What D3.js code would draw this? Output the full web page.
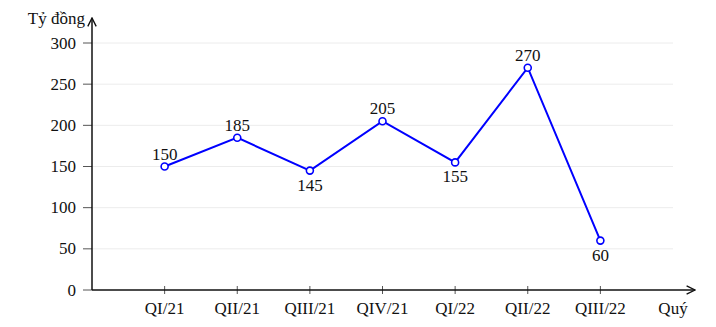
<!DOCTYPE html>
<html lang="vi">
<head>
<meta charset="UTF-8">
<title>Doanh thu theo quý</title>
<script src="https://d3js.org/d3.v7.min.js"></script>
<style>
  body { margin: 0; background: #fff; }
  svg text { font-family: "Liberation Serif", "DejaVu Serif", serif; font-size: 17px; fill: #111; }
</style>
</head>
<body>
<svg id="chart" width="716" height="327"></svg>
<script>
  const quarters = ["QI/21", "QII/21", "QIII/21", "QIV/21", "QI/22", "QII/22", "QIII/22"];
  const values = [150, 185, 145, 205, 155, 270, 60];
  const labelPos = ["above", "above", "below", "above", "below", "above", "below"];
  const yTicks = [0, 50, 100, 150, 200, 250, 300];

  const svg = d3.select("#chart");
  const x0 = 92, y0 = 290;

  // category i sits at index i+1; the x axis label "Quý" takes slot 8
  const x = d3.scaleLinear().domain([0, 8]).range([x0, 673]);
  const y = d3.scaleLinear().domain([0, 300]).range([y0, 43]);

  // grid
  svg.append("g").selectAll("line").data(yTicks.slice(1)).join("line")
    .attr("x1", x0).attr("x2", x(8))
    .attr("y1", d => y(d)).attr("y2", d => y(d))
    .attr("stroke", "#ececec").attr("stroke-width", 1);

  // y ticks + labels
  const yg = svg.append("g");
  yg.selectAll("line").data(yTicks).join("line")
    .attr("x1", x0 - 9).attr("x2", x0)
    .attr("y1", d => y(d)).attr("y2", d => y(d))
    .attr("stroke", "#555").attr("stroke-width", 1);
  yg.selectAll("text").data(yTicks).join("text")
    .attr("x", x0 - 16).attr("y", d => y(d) + 5.5)
    .attr("text-anchor", "end")
    .text(d => d);

  // x ticks + labels
  const xg = svg.append("g");
  xg.selectAll("line").data(quarters).join("line")
    .attr("x1", (d, i) => x(i + 1)).attr("x2", (d, i) => x(i + 1))
    .attr("y1", y0 - 4).attr("y2", y0 + 4)
    .attr("stroke", "#555").attr("stroke-width", 1);
  xg.selectAll("text").data(quarters).join("text")
    .attr("x", (d, i) => x(i + 1)).attr("y", y0 + 24)
    .attr("text-anchor", "middle")
    .text(d => d);

  // axes with arrows
  svg.append("defs").append("marker")
    .attr("id", "arrow").attr("viewBox", "0 0 10 10")
    .attr("refX", 9).attr("refY", 5)
    .attr("markerWidth", 7).attr("markerHeight", 7)
    .attr("orient", "auto")
    .append("path").attr("d", "M1,1 L9,5 L1,9")
    .attr("fill", "none").attr("stroke", "#111").attr("stroke-width", 1.3);

  svg.append("line")
    .attr("x1", x0).attr("x2", 695).attr("y1", y0).attr("y2", y0)
    .attr("stroke", "#111").attr("stroke-width", 1.5)
    .attr("marker-end", "url(#arrow)");
  svg.append("line")
    .attr("x1", x0).attr("x2", x0).attr("y1", y0).attr("y2", 18)
    .attr("stroke", "#111").attr("stroke-width", 1.5)
    .attr("marker-end", "url(#arrow)");

  svg.append("text").attr("x", 85).attr("y", 24).attr("text-anchor", "end").text("Tỷ đồng");
  svg.append("text").attr("x", x(8)).attr("y", y0 + 24).attr("text-anchor", "middle").text("Quý");

  // line
  const line = d3.line().x((d, i) => x(i + 1)).y(d => y(d));
  svg.append("path").datum(values)
    .attr("d", line)
    .attr("fill", "none").attr("stroke", "#0000ff").attr("stroke-width", 2);

  svg.append("g").selectAll("circle").data(values).join("circle")
    .attr("cx", (d, i) => x(i + 1)).attr("cy", d => y(d))
    .attr("r", 3.5)
    .attr("fill", "#fff").attr("stroke", "#0000ff").attr("stroke-width", 1.6);

  svg.append("g").selectAll("text").data(values).join("text")
    .attr("x", (d, i) => x(i + 1))
    .attr("y", (d, i) => labelPos[i] === "above" ? y(d) - 7 : y(d) + 20)
    .attr("text-anchor", "middle")
    .text(d => d);
</script>
</body>
</html>
